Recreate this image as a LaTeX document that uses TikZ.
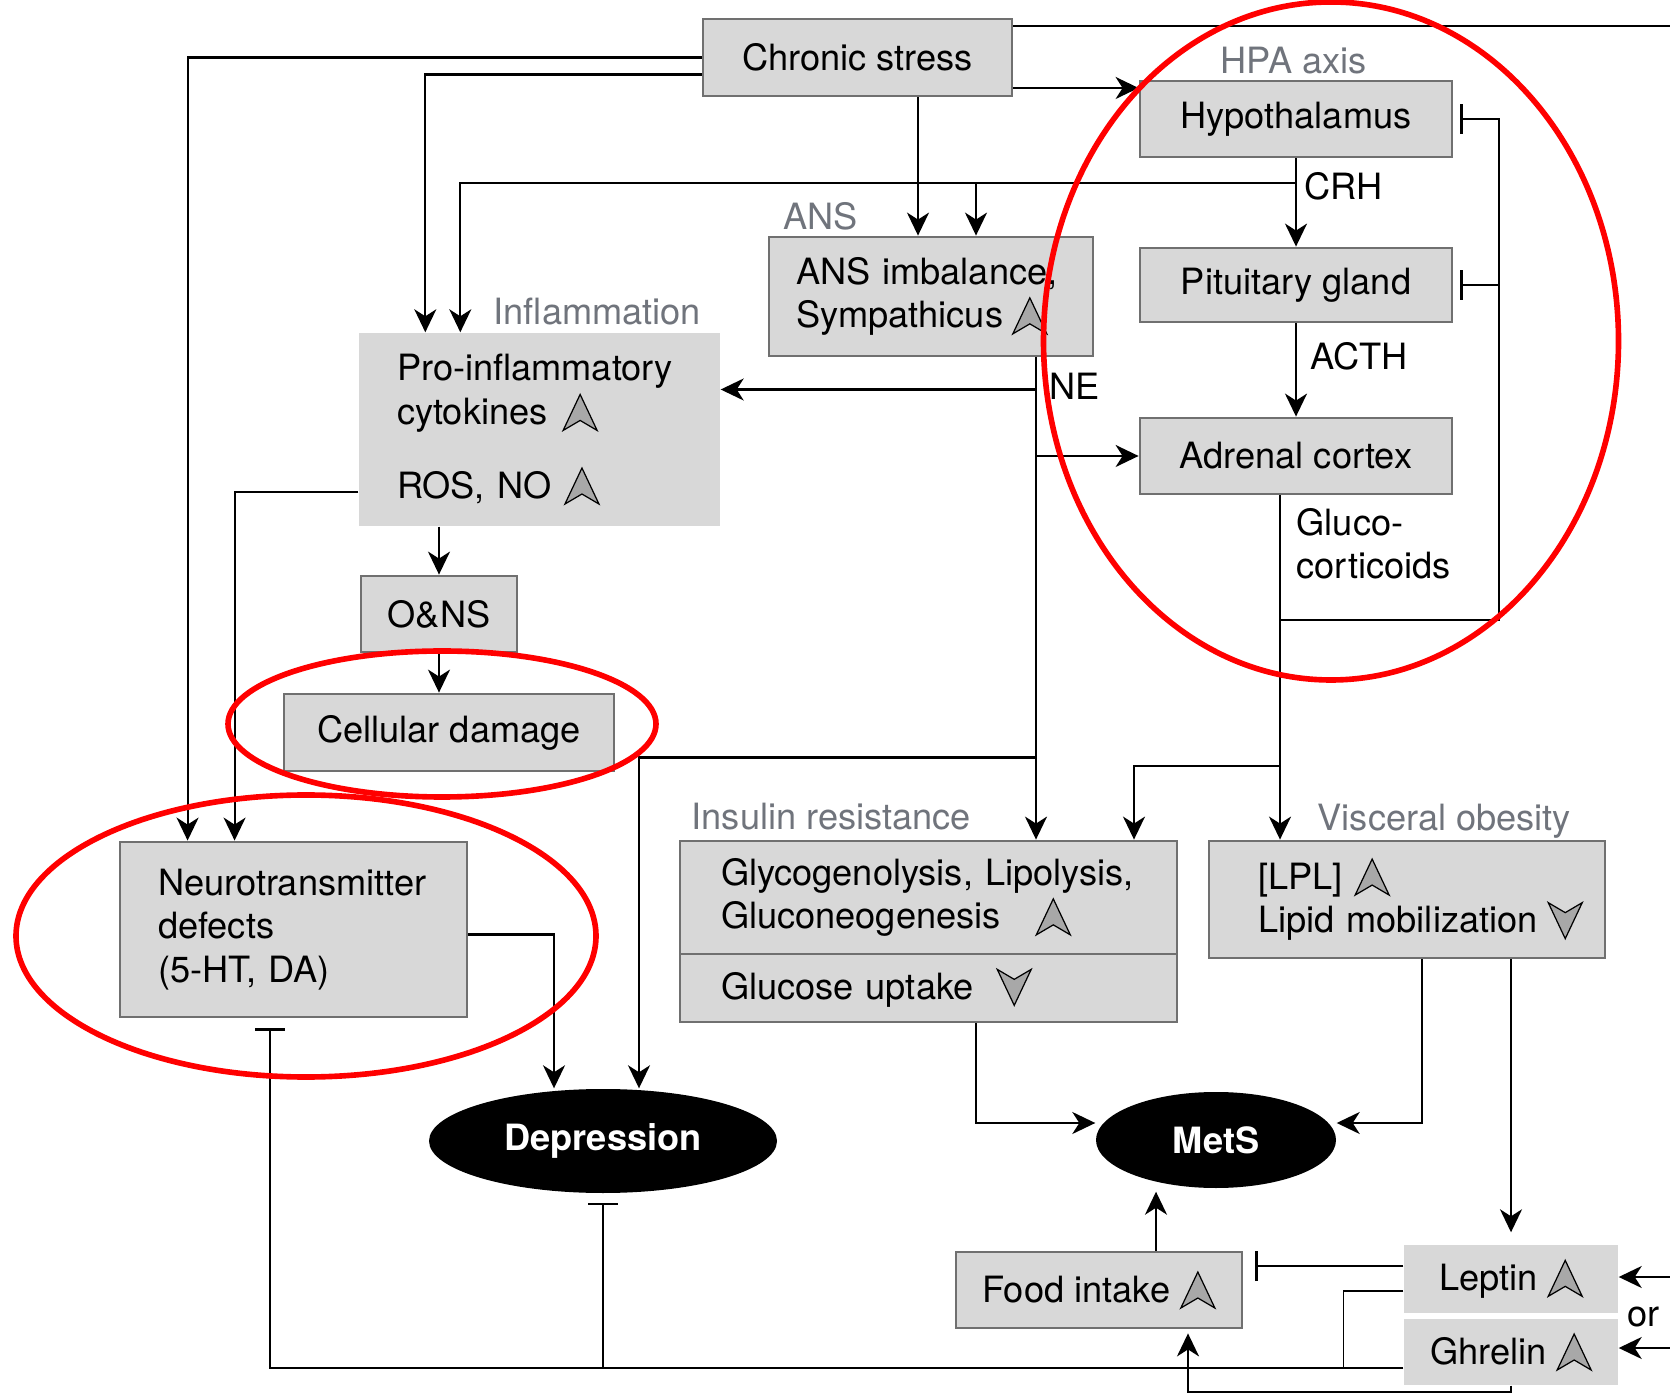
\documentclass[tikz,border=0pt]{standalone}
\usepackage{fontspec}
\setmainfont{TeX Gyre Heros}
\usepackage{tikz}
\usetikzlibrary{arrows.meta,shapes.geometric}

\definecolor{boxfill}{RGB}{216,216,216}
\definecolor{boxedge}{RGB}{112,112,112}
\definecolor{grouptext}{RGB}{112,116,124}
\definecolor{chevfill}{RGB}{168,168,168}
\definecolor{ringred}{RGB}{255,0,0}

\newcommand{\upar}{\tikz[x=1cm,y=1cm,baseline=0.6mm]\draw[fill=chevfill,line width=0.35pt] (0,0) -- (0.17,0.36) -- (0.34,0) -- (0.17,0.1) -- cycle;}
\newcommand{\downar}{\tikz[x=1cm,y=1cm,baseline=0.6mm]\draw[fill=chevfill,line width=0.35pt] (0,0.36) -- (0.17,0) -- (0.34,0.36) -- (0.17,0.26) -- cycle;}

\begin{document}
\begin{tikzpicture}[x=0.1mm,y=-0.1mm,
  every node/.style={font=\fontsize{10.3}{12.4}\selectfont},
  procbox/.style={draw=boxedge,fill=boxfill,line width=0.8pt,inner sep=0pt},
  flatbox/.style={fill=boxfill,inner sep=0pt},
  textindent/.style={align=left,inner xsep=0pt,execute at begin node={\leftskip=#1\relax}},
  outcome/.style={ellipse,fill=black,text=white,inner sep=0pt,font=\fontsize{10.3}{12.4}\selectfont\bfseries},
  grouplabel/.style={text=grouptext,inner sep=0pt,anchor=base west},
  sig/.style={inner sep=0pt,anchor=base west},
  arr/.style={-{Stealth[length=2.3mm,width=2.2mm,inset=0.7mm]},line width=0.6pt},
  inhib/.style={-{Bar[width=3mm]},line width=0.6pt},
  redring/.style={draw=ringred,line width=1.6pt}]
  \useasboundingbox (0,0) rectangle (1670,1394);

  % stress and HPA axis
  \node[procbox,minimum width=30.9mm,minimum height=7.7mm] (stress) at (857.5,57.5) {Chronic stress};
  \node[grouplabel] (hpalbl) at (1220,74) {HPA axis};
  \node[procbox,minimum width=31.2mm,minimum height=7.6mm] (hypo) at (1296,119) {Hypothalamus};
  \node[procbox,minimum width=31.2mm,minimum height=7.4mm] (pit) at (1296,285) {Pituitary gland};
  \node[procbox,minimum width=31.2mm,minimum height=7.6mm] (adr) at (1296,456) {Adrenal cortex};
  \node[sig] (crhlbl) at (1304,200) {CRH};
  \node[sig] (acthlbl) at (1310,370) {ACTH};
  \node[sig,align=left] (gclbl) at (1296,579) {Gluco-\\corticoids};

  % ANS
  \node[grouplabel] (anslbl) at (783,230) {ANS};
  \node[procbox,textindent=2.7mm,text width=32.4mm,minimum height=11.9mm] (ans) at (931,296.5) {ANS imbalance,\\Sympathicus\hspace{0.9mm}\upar};
  \node[sig] (nelbl) at (1049,400) {NE};

  % inflammation
  \node[grouplabel] (infllbl) at (493,325) {Inflammation};
  \node[flatbox,textindent=3.8mm,text width=36.1mm,minimum height=19.3mm] (infl) at (539.5,429.5) {Pro-inflammatory\\cytokines\hspace{1.5mm}\upar\\[3mm]ROS, NO\hspace{1.3mm}\upar};
  \node[procbox,minimum width=15.6mm,minimum height=7.6mm] (onss) at (439,614) {O\&NS};
  \node[procbox,minimum width=33mm,minimum height=7.7mm] (cell) at (449,732.5) {Cellular damage};
  \node[procbox,textindent=3.8mm,text width=34.7mm,minimum height=17.5mm] (neuro) at (293.5,929.5) {Neurotransmitter\\defects\\(5-HT, DA)};
  \node[outcome,minimum width=34.8mm,minimum height=10.4mm] (dep) at (603,1141) {Depression};

  % insulin resistance and visceral obesity
  \node[grouplabel] (inslbl) at (691,830) {Insulin resistance};
  \node[procbox,textindent=4.1mm,text width=49.7mm,minimum height=11.3mm] (insA) at (928.5,897.5) {Glycogenolysis, Lipolysis,\\Gluconeogenesis\hspace{3.5mm}\upar};
  \node[procbox,textindent=4.1mm,text width=49.7mm,minimum height=6.8mm] (insB) at (928.5,988) {Glucose uptake\hspace{2.3mm}\downar};
  \node[grouplabel] (visclbl) at (1317,831) {Visceral obesity};
  \node[procbox,textindent=4.9mm,text width=39.6mm,minimum height=11.7mm] (visc) at (1407,899.5) {[LPL]\hspace{1.2mm}\upar\\Lipid mobilization\hspace{1mm}\downar};
  \node[outcome,minimum width=24mm,minimum height=9.6mm] (mets) at (1216,1140) {MetS};
  \node[procbox,minimum width=28.6mm,minimum height=7.6mm] (food) at (1099,1290) {Food intake\hspace{1mm}\upar};
  \node[flatbox,minimum width=21.4mm,minimum height=6.8mm] (lep) at (1511,1279) {Leptin\hspace{1mm}\upar};
  \node[flatbox,minimum width=21.4mm,minimum height=6.6mm] (ghr) at (1511,1352) {Ghrelin\hspace{1mm}\upar};
  \node[sig] (orlbl) at (1627,1326) {or};

  % junctions
  \coordinate (s3) at ([yshift=-3.05mm]stress.east);
  \coordinate (s4) at ([yshift=3.15mm]stress.east);
  \coordinate (ansA) at ([xshift=-1.3mm]ans.north);
  \coordinate (ansB) at ([xshift=4.5mm]ans.north);
  \coordinate (crh) at ([yshift=-2.5mm]hypo.south);
  \coordinate (ne) at ([xshift=10.5mm]ans.south);
  \coordinate (infR) at ([yshift=4mm]infl.east);
  \coordinate (nedep) at (1036,757.5);
  \coordinate (gc) at ([xshift=-1.6mm]adr.south);
  \coordinate (fb) at ([yshift=-12.5mm]gc);
  \coordinate (gcins) at ([yshift=-27.1mm]gc);
  \coordinate (fdUp) at ([xshift=5.7mm]food.north);
  \coordinate (lepA) at ([yshift=1.3mm]lep.west);
  \coordinate (ghrL) at ([yshift=-1.6mm]ghr.west);
  \coordinate (rimT) at (1670,26);
  \coordinate (rimL) at (1670,1277);
  \coordinate (rimG) at (1670,1348);

  % chronic stress
  \draw[arr] (stress.west) -| ([xshift=6.9mm]neuro.north west);
  \draw[arr] ([yshift=-1.7mm]stress.west) -| ([xshift=6.7mm]infl.north west);
  \draw[arr] (s3) -- (s3 -| hypo.west);
  \draw (s4) -- (s4 -| rimT);
  \draw[arr] (ansA |- stress.south) -- (ansA);

  % HPA axis
  \draw[arr] (hypo.south) -- (pit.north);
  \draw[arr] (pit.south) -- (adr.north);
  \draw[arr] (crh) -| ([xshift=10.2mm]infl.north west);
  \draw[arr] (ansB |- crh) -- (ansB);
  \draw[arr] (gc) -- (gc |- visc.north);
  \draw[inhib] (fb) -| ([xshift=4.6mm]hypo.east) -- ([xshift=0.7mm]hypo.east);
  \draw[inhib] ([xshift=4.6mm]pit.east) -- ([xshift=0.7mm]pit.east);
  \draw[arr] (gcins) -| ([xshift=20.55mm]insA.north);

  % NE
  \draw[arr] (ne) -- (ne |- insA.north);
  \draw[arr] (ne |- infR) -- (infR);
  \draw[arr] (ne |- adr.west) -- (adr.west);
  \draw[arr] (nedep) -| ([xshift=3.6mm]dep.north);

  % inflammation
  \draw[arr] ([yshift=-6.25mm]infl.west) -| ([xshift=11.6mm]neuro.north west);
  \draw[arr] (onss.north |- infl.south) -- (onss.north);
  \draw[arr] (onss.south) -- (onss.south |- cell.north);
  \draw[arr] ([yshift=-0.5mm]neuro.east) -| ([xshift=-4.9mm]dep.north);

  % MetS
  \draw[arr] ([xshift=4.75mm]insB.south) |- ([yshift=1.7mm]mets.west);
  \draw[arr] ([xshift=1.5mm]visc.south) |- ([yshift=1.7mm]mets.east);
  \draw[arr,shorten >=1.2mm] (lep.north |- visc.south) -- (lep.north);
  \draw[arr,shorten >=0.3mm] (fdUp) -- (fdUp |- mets.south);
  \draw[inhib,shorten >=1.2mm] (lepA) -- (lepA -| food.east);
  \draw ([yshift=-1.2mm]lep.west) -| ([xshift=-6mm]ghrL);
  \draw[inhib,shorten >=1mm] (ghrL) -| ([xshift=-2.35mm]neuro.south);
  \draw[inhib,shorten >=0.9mm] (dep.south |- ghrL) -- (dep.south);
  \draw[arr,shorten >=0.4mm] (ghr.south) -- ++(0,6) -| ([xshift=8.9mm]food.south);
  \draw[arr] (rimL) -- (rimL -| lep.east);
  \draw[arr] (rimG) -- (rimG -| ghr.east);

  % red rings
  \draw[redring] (1331,341) ellipse [x radius=28.75mm, y radius=33.9mm];
  \draw[redring] (442,724) ellipse [x radius=21.4mm, y radius=7.3mm];
  \draw[redring] (306,936) ellipse [x radius=29mm, y radius=14.1mm];
\end{tikzpicture}
\end{document}
